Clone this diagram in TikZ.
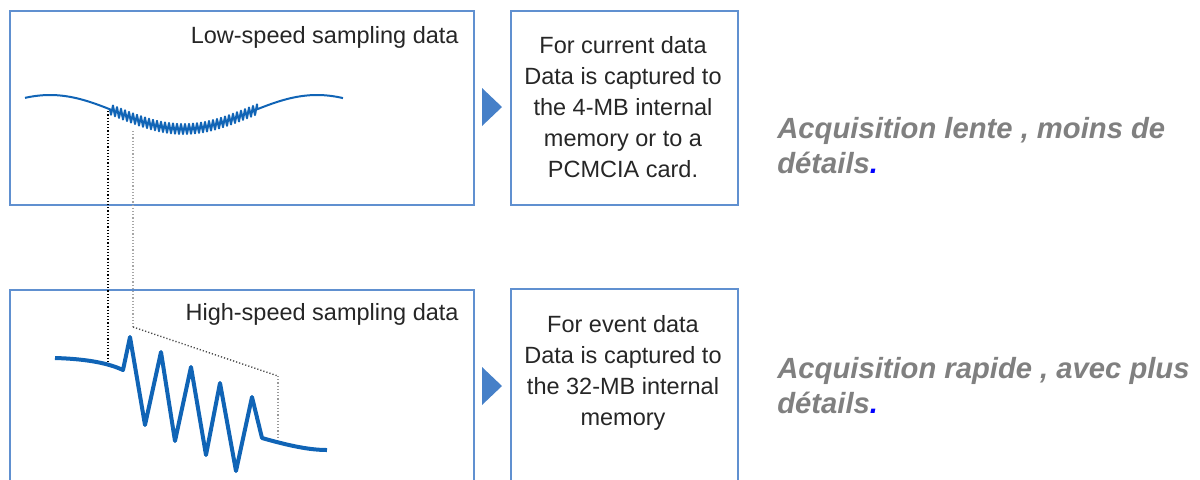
\documentclass[tikz,border=0pt]{standalone}
\usepackage{fontspec}
\setmainfont{Liberation Sans}
\definecolor{boxblue}{RGB}{96,144,208}
\definecolor{triblue}{RGB}{70,128,200}
\definecolor{waveblue}{RGB}{16,100,182}
\definecolor{notegray}{RGB}{128,128,128}
\tikzset{
  panel/.style={draw=boxblue, line width=1pt, anchor=north west, inner sep=0pt},
  boxtext/.style={font=\fontsize{11.75pt}{15.5pt}\selectfont, text=black!85, align=center, inner sep=0pt},
  titletext/.style={font=\fontsize{11.75pt}{15.5pt}\selectfont, text=black!85, inner sep=0pt},
  note/.style={font=\fontsize{14.6pt}{17.5pt}\selectfont\bfseries\itshape, text=notegray, align=left, inner sep=0pt, anchor=north west},
  marker/.style={fill=triblue},
  dotline/.style={line width=0.7pt, dash pattern=on 0.6pt off 1pt},
}
\begin{document}
\begin{tikzpicture}[x=0.5pt, y=-0.5pt]
\useasboundingbox (0,0) rectangle (1200,479);
\clip (0,0) rectangle (1200,479);
% boxes
\node[panel, minimum width=232pt, minimum height=97pt] (lowbox) at (9,10) {};
\node[panel, minimum width=232pt, minimum height=106pt] (highbox) at (9,289) {};
\node[panel, minimum width=113.5pt, minimum height=97pt] (curbox) at (510,10) {};
\node[panel, minimum width=113.5pt, minimum height=106pt] (evtbox) at (510,288) {};
% titles
\node[titletext, anchor=base east] (lowtitle) at (459,43) {Low-speed sampling data};
\node[titletext, anchor=base east] (hightitle) at (459,320) {High-speed sampling data};
% box texts
\node[boxtext, anchor=north] (curtext) at (623,36) {For current data\\Data is captured to\\the 4-MB internal\\memory or to a\\PCMCIA card.};
\node[boxtext, anchor=north] (evttext) at (623,315) {For event data\\Data is captured to\\the 32-MB internal\\memory};
% markers
\fill[marker] (482,88) -- (502,107) -- (482,126) -- cycle;
\fill[marker] (482,367) -- (502,386) -- (482,405) -- cycle;
% notes
\node[note] (note1) at (777,117) {Acquisition lente , moins de\\d\'etails\textcolor{blue}{.}};
\node[note] (note2) at (777,357) {Acquisition rapide , avec plus\\d\'etails\textcolor{blue}{.}};
% dotted guides
\coordinate (ga) at (108,108);
\coordinate (gb) at (108,362);
\coordinate (gc) at (133,131);
\coordinate (gd) at (133,327);
\coordinate (ge) at (278,376);
\coordinate (gf) at (278,440);
\draw[dotline, black] (ga) -- (gb);
\draw[dotline, gray!70] (gc) -- (gd);
\draw[dotline, black!70] (gd) -- (ge);
\draw[dotline, gray!80] (ge) -- (gf);
% low-speed wave
\draw[waveblue, line width=1pt, line join=round]
  plot[domain=25:110, samples=40] (\x, {112-17*cos((\x-50)*1.3483)})
  -- plot[domain=110:257, samples=148] (\x, {112-17*cos((\x-50)*1.3483)+5*sin((\x-110)*90)})
  -- plot[domain=257:343, samples=40] (\x, {112-17*cos((\x-50)*1.3483)});
% high-speed wave
\draw[waveblue, line width=2pt, line join=round]
  (55,358) .. controls (90,359) and (110,364) .. (123,370)
  -- (130,337) -- (145,425) -- (161,352) -- (175,441) -- (191,367) -- (206,455)
  -- (220,383) -- (236,471) -- (252,397) -- (262,438)
  .. controls (290,446) and (310,450) .. (327,450);
\end{tikzpicture}
\end{document}
